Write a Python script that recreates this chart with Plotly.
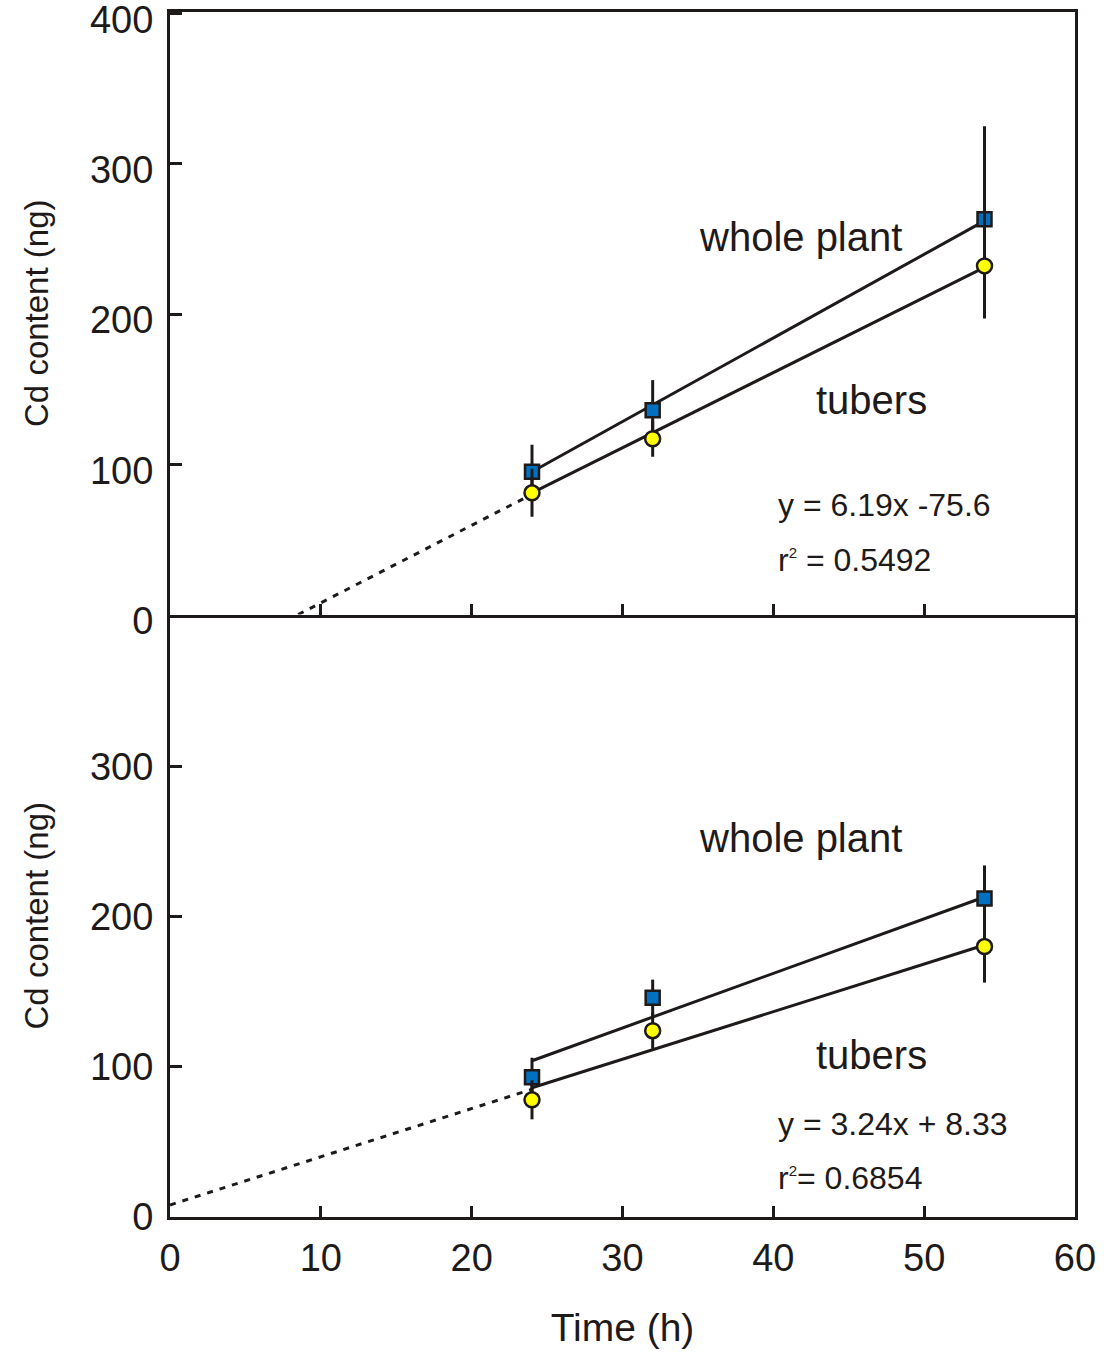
import plotly.graph_objects as go
from plotly.subplots import make_subplots

# ---- data ----
time_h = [24, 32, 54]

top_whole = [95, 136, 263]
top_whole_err = [18, 20, 62]
top_tubers = [81, 117, 232]
top_tubers_err = [16, 12, 35]

bot_whole = [93, 146, 212]
bot_whole_err = [13, 12, 22]
bot_tubers = [78, 124, 180]
bot_tubers_err = [13, 12, 24]

fit_x = [24, 54]
top_whole_fit = [95, 262]
top_tubers_fit = [81, 231]
top_extrap_x = [8.5, 24]
top_extrap_y = [0, 80]

bot_whole_fit = [104, 213]
bot_tubers_fit = [86, 181]
bot_extrap_x = [0, 24]
bot_extrap_y = [8, 85]

x_ticks = [0, 10, 20, 30, 40, 50, 60]
top_y_ticks = [0, 100, 200, 300, 400]
bot_y_ticks = [0, 100, 200, 300]

SUP2 = "<sup><span style='font-size:15px'>2</span></sup>"
top_eq = "y = 6.19x -75.6"
top_r2 = "r" + SUP2 + " = 0.5492"
bot_eq = "y = 3.24x + 8.33"
bot_r2 = "r" + SUP2 + "= 0.6854"

INK = "#1e1a1a"
BLUE = "#0070c0"
YELLOW = "#ffff00"
FONT = "Arial, Liberation Sans, sans-serif"

fig = make_subplots(rows=2, cols=1, shared_xaxes=False, vertical_spacing=0)

def add_panel(row, whole, whole_err, tubers, tubers_err, wfit, tfit, ex, ey):
    fig.add_trace(go.Scatter(x=fit_x, y=wfit, mode="lines",
                             line=dict(color=INK, width=3), showlegend=False,
                             hoverinfo="skip"), row=row, col=1)
    fig.add_trace(go.Scatter(x=fit_x, y=tfit, mode="lines",
                             line=dict(color=INK, width=3), showlegend=False,
                             hoverinfo="skip"), row=row, col=1)
    fig.add_trace(go.Scatter(x=ex, y=ey, mode="lines",
                             line=dict(color=INK, width=3, dash="6px,7px"),
                             showlegend=False, hoverinfo="skip"), row=row, col=1)
    fig.add_trace(go.Scatter(x=time_h, y=whole, mode="markers", name="whole plant",
                             marker=dict(symbol="square", size=14, color=BLUE,
                                         line=dict(color=INK, width=2.5)),
                             error_y=dict(type="data", array=whole_err, width=0,
                                          thickness=3, color=INK),
                             showlegend=False), row=row, col=1)
    fig.add_trace(go.Scatter(x=time_h, y=tubers, mode="markers", name="tubers",
                             marker=dict(symbol="circle", size=15, color=YELLOW,
                                         line=dict(color=INK, width=2.5)),
                             error_y=dict(type="data", array=tubers_err, width=0,
                                          thickness=3, color=INK),
                             showlegend=False), row=row, col=1)

add_panel(1, top_whole, top_whole_err, top_tubers, top_tubers_err,
          top_whole_fit, top_tubers_fit, top_extrap_x, top_extrap_y)
add_panel(2, bot_whole, bot_whole_err, bot_tubers, bot_tubers_err,
          bot_whole_fit, bot_tubers_fit, bot_extrap_x, bot_extrap_y)

TICKFONT = dict(family=FONT, size=38, color=INK)
axis_common = dict(showline=True, linecolor=INK, linewidth=3,
                   ticks="inside", tickcolor=INK, tickwidth=3, showgrid=False,
                   zeroline=False, tickfont=TICKFONT, ticklabeloverflow="allow")

fig.update_xaxes(range=[0, 60], tickvals=x_ticks, ticklen=11, **axis_common)
fig.update_xaxes(showticklabels=False, mirror=True, row=1, col=1)
fig.update_xaxes(showticklabels=True, mirror=False, ticklabelstandoff=5, row=2, col=1,
                 title=dict(text="Time (h)", font=dict(family=FONT, size=39, color=INK),
                            standoff=37))

fig.update_yaxes(range=[0, 401], ticklen=12, ticklabelstandoff=6, mirror=True, **axis_common)
fig.update_yaxes(tickvals=top_y_ticks, ticklabelshift=6, row=1, col=1,
                 title=dict(text="Cd content (ng)", font=dict(family=FONT, size=33, color=INK),
                            standoff=32))
fig.update_yaxes(tickvals=bot_y_ticks, row=2, col=1,
                 title=dict(text="Cd content (ng)", font=dict(family=FONT, size=33, color=INK),
                            standoff=32))

fig.update_layout(xaxis=dict(domain=[0, 1]), xaxis2=dict(domain=[0, 1]),
                  yaxis=dict(domain=[0.5, 1]), yaxis2=dict(domain=[0, 0.5]))

ann_font_big = dict(family=FONT, size=40, color=INK)
ann_font_eq = dict(family=FONT, size=32, color=INK)

for (xref, yref, wy, ty, eq, r2, eqy, r2y) in [
    ("x", "y", 251, 143, top_eq, top_r2, 73, 36.5),
    ("x2", "y2", 252, 108, bot_eq, bot_r2, 62, 26),
]:
    fig.add_annotation(x=41.8, y=wy, xref=xref, yref=yref, text="whole plant",
                       showarrow=False, font=ann_font_big, xanchor="center", yanchor="middle")
    fig.add_annotation(x=46.5, y=ty, xref=xref, yref=yref, text="tubers",
                       showarrow=False, font=ann_font_big, xanchor="center", yanchor="middle")
    fig.add_annotation(x=40.2, y=eqy, xref=xref, yref=yref, text=eq,
                       showarrow=False, font=ann_font_eq, xanchor="left", yanchor="middle")
    fig.add_annotation(x=40.2, y=r2y, xref=xref, yref=yref, text=r2,
                       showarrow=False, font=ann_font_eq, xanchor="left", yanchor="middle")

fig.update_layout(width=1108, height=1353, plot_bgcolor="white", paper_bgcolor="white",
                  margin=dict(l=170, r=33, t=12, b=136, autoexpand=False),
                  font=dict(family=FONT, color=INK))

fig.write_html("out.html")
